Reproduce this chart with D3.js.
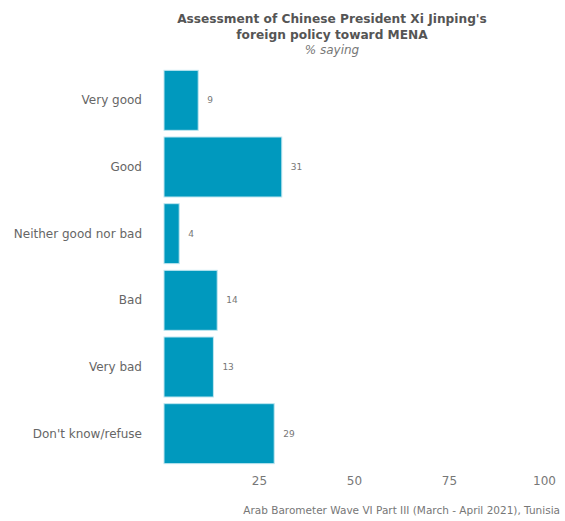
<!DOCTYPE html>
<html><head><meta charset="utf-8">
<script src="https://cdn.jsdelivr.net/npm/d3@7"></script>
<style>body{margin:0;background:#fff}svg{display:block}text{font-family:"DejaVu Sans",sans-serif}</style>
</head><body>
<script>
const categories = ["Very good","Good","Neither good nor bad","Bad","Very bad","Don't know/refuse"];
const values = [9,31,4,14,13,29];
const ticks = [25,50,75,100];
const W=565,H=521;
const svg=d3.select("body").append("svg").attr("width",W).attr("height",H);
const x=d3.scaleLinear().domain([0,100]).range([164,544]);
const y=d3.scaleBand().domain(categories).range([67,467]).paddingInner(0.1).paddingOuter(0.05);
svg.append("text").attr("x",332).attr("y",23).attr("text-anchor","middle").attr("font-size",12.2).attr("font-weight","bold").attr("fill","#555").text("Assessment of Chinese President Xi Jinping's");
svg.append("text").attr("x",332).attr("y",39).attr("text-anchor","middle").attr("font-size",12.2).attr("font-weight","bold").attr("fill","#555").text("foreign policy toward MENA");
svg.append("text").attr("x",332).attr("y",54).attr("text-anchor","middle").attr("font-size",12).attr("font-style","italic").attr("fill","#777").text("% saying");
const g=svg.append("g");
g.selectAll("rect").data(values).join("rect")
 .attr("x",x(0)).attr("y",(d,i)=>y(categories[i])).attr("width",d=>x(d)-x(0)).attr("height",y.bandwidth())
 .attr("fill","#0099be").attr("stroke","#bfe6f0").attr("stroke-width",1);
g.selectAll("text.v").data(values).join("text").attr("class","v")
 .attr("x",d=>x(d)+9).attr("y",(d,i)=>y(categories[i])+y.bandwidth()/2).attr("dy","0.35em")
 .attr("font-size",9).attr("fill","#777").text(d=>d);
const ya=d3.axisLeft(y).tickSize(0).tickPadding(22);
svg.append("g").attr("transform",`translate(${x(0)},0)`).call(ya)
 .call(a=>a.select(".domain").remove())
 .call(a=>a.selectAll("text").attr("font-size",12).attr("fill","#666").style("font-family","DejaVu Sans"));
const xa=d3.axisBottom(x).tickValues(ticks).tickSize(0).tickPadding(8);
svg.append("g").attr("transform",`translate(0,468)`).call(xa)
 .call(a=>a.select(".domain").remove())
 .call(a=>a.selectAll("text").attr("font-size",12).attr("fill","#777").style("font-family","DejaVu Sans"));
svg.append("text").attr("x",560).attr("y",514).attr("text-anchor","end").attr("font-size",10.5).attr("fill","#777").text("Arab Barometer Wave VI Part III (March - April 2021), Tunisia");
</script>
</body></html>
